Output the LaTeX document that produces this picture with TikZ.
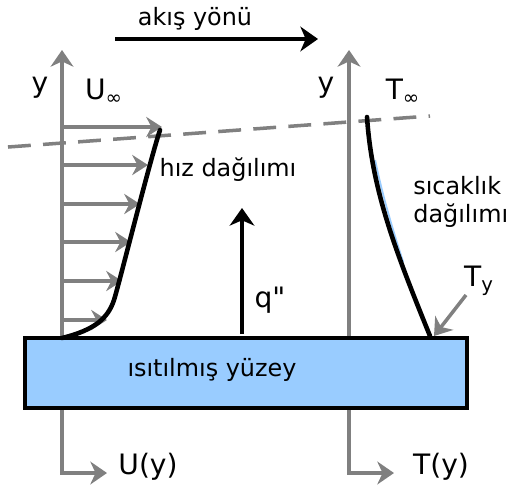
\documentclass[tikz,border=0pt]{standalone}
\usepackage{fontspec}
\setmainfont{DejaVu Sans}
\usetikzlibrary{arrows.meta,calc,positioning}

\definecolor{axisgray}{HTML}{808080}
\definecolor{plateblue}{HTML}{99CCFF}

\begin{document}
\begin{tikzpicture}[x=0.02cm,y=-0.02cm,
    axis/.style={draw=axisgray,line width=2pt,-{Stealth[length=9.5pt,width=13pt,inset=3pt]}},
    axisline/.style={draw=axisgray,line width=2pt},
    vel/.style={draw=axisgray,line width=2pt,-{Stealth[length=9pt,width=11.5pt,inset=3pt]}},
    profile/.style={draw=black,line width=2.6pt,line cap=round},
    bigarrow/.style={draw=black,line width=2.6pt,-{Stealth[length=10pt,width=14pt,inset=3pt]}},
    lbl/.style={font=\fontsize{13.6}{16}\selectfont,inner sep=0pt},
    biglbl/.style={font=\fontsize{16}{18}\selectfont,inner sep=0pt}]
  \useasboundingbox (0,0) rectangle (510,488);
  % plate
  \node[draw=black,line width=2.6pt,fill=plateblue,minimum width=442*0.02cm,
        minimum height=70*0.02cm,inner sep=0pt] (plate) at (246,373) {};
  \node[lbl] (plabel) at (212,370) {ısıtılmış yüzey};
  % axes
  \coordinate (ltop) at (62,50);
  \coordinate (rtop) at (349,50);
  \draw[axis] (plate.north -| ltop) -- (ltop);
  \draw[axis] (plate.north -| rtop) -- (rtop);
  \coordinate (lcorner) at (62,473);
  \coordinate (rcorner) at (349,473);
  \node[biglbl] (uy) at (148,467) {U(y)};
  \node[biglbl] (ty) at (441,467) {T(y)};
  \draw[axis] (plate.south -| lcorner) -- (lcorner) -- ($(lcorner)+(45,0)$);
  \draw[axis] (plate.south -| rcorner) -- (rcorner) -- ($(rcorner)+(45,0)$);
  \node[biglbl] (ly) at (40,88) {y};
  \node[biglbl] (ry) at (326,88) {y};
  \node[biglbl] (uinf) at (104,92) {U\textsubscript{∞}};
  \node[biglbl] (tinf) at (403,92) {T\textsubscript{∞}};
  % flow direction
  \node[lbl] (flow) at (195,19) {akış yönü};
  \coordinate (fstart) at (115,39);
  \coordinate (fend) at (318,39);
  \draw[bigarrow] (fstart) -- (fend);
  % boundary layer edge
  \coordinate (ebl) at (8,147);
  \coordinate (ebr) at (430,116);
  \draw[axisline,dash pattern=on 13pt off 7pt] (ebl) -- (ebr);
  % velocity arrows
  \foreach \yy/\xx in {127/162,165/148,204/140,242/131,281/122,320/107}
    \draw[vel] (62,\yy) -- (\xx,\yy);
  % velocity profile
  \draw[profile] (62,338) .. controls (95,330) and (108,318) .. (114,300)
    .. controls (118,288) and (150,160) .. (160,130);
  \node[lbl] (vlabel) at (228,170) {hız dağılımı};
  % temperature profile
  \draw[plateblue,line width=1pt,xshift=1.8pt] (372,160) .. controls (378,190) and (388,225) .. (400,262);
  \draw[profile] (367,117) .. controls (372,190) and (395,250) .. (430,336);
  \node[lbl,align=left,anchor=west] (tlabel) at (413,202) {sıcaklık\\dağılımı};
  % heat flux
  \coordinate (qstart) at (242,334);
  \coordinate (qend) at (242,208);
  \draw[bigarrow] (qstart) -- (qend);
  \node[biglbl] (qlabel) at (270,300) {q\textquotedbl};
  % wall temperature
  \node[biglbl] (tw) at (479,281) {T\textsubscript{y}};
  \coordinate (twend) at (434,336);
  \draw[axis] (466,295) -- (twend);
\end{tikzpicture}
\end{document}
